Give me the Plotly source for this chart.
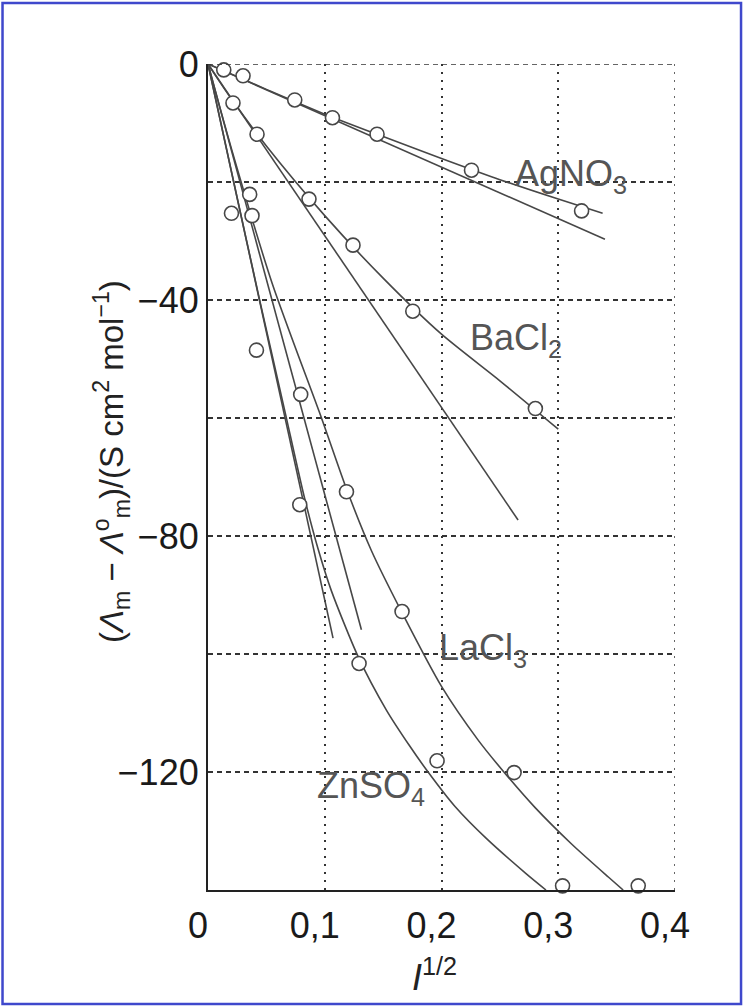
import plotly.graph_objects as go

# ---- measured data (I^1/2, Lambda_m - Lambda_m° in S cm^2 mol^-1) ----
agno3_x = [0.0135, 0.030, 0.0743, 0.1066, 0.1448, 0.2257, 0.320]
agno3_y = [-1.0, -2.0, -6.1, -9.1, -11.9, -18.0, -24.9]

bacl2_x = [0.0214, 0.0420, 0.0865, 0.1242, 0.1754, 0.2804]
bacl2_y = [-6.6, -11.9, -22.9, -30.7, -41.9, -58.4]

lacl3_x = [0.0357, 0.0377, 0.0794, 0.1186, 0.1662, 0.2622, 0.3685]
lacl3_y = [-22.1, -25.7, -56.0, -72.5, -92.8, -120.1, -139.3]

znso4_x = [0.0201, 0.0415, 0.0786, 0.1294, 0.1962, 0.3037]
znso4_y = [-25.3, -48.5, -74.7, -101.6, -118.1, -139.3]

# ---- extended (curved) fits ----
agno3_fit_x = [0, 0.05, 0.10, 0.15, 0.20, 0.25, 0.30, 0.338]
agno3_fit_y = [0, -4.3, -8.5, -12.3, -16.0, -19.6, -22.9, -25.3]

bacl2_fit_x = [0, 0.02, 0.05, 0.10, 0.15, 0.20, 0.25, 0.300]
bacl2_fit_y = [0, -5.9, -13.9, -25.7, -36.3, -45.8, -53.7, -61.9]

lacl3_fit_x = [0, 0.020, 0.055, 0.0972, 0.1186, 0.1400, 0.1662, 0.2000,
               0.2314, 0.2543, 0.2800, 0.3114, 0.3429, 0.3556]
lacl3_fit_y = [0, -14.3, -37.2, -60.0, -72.0, -82.5, -93.0, -105.5,
               -114.6, -120.2, -126.0, -132.2, -137.8, -140.0]

znso4_fit_x = [0, 0.022, 0.044, 0.066, 0.082, 0.094, 0.1057, 0.1285,
               0.1528, 0.1728, 0.1885, 0.2114, 0.2386, 0.2729, 0.2895]
znso4_fit_y = [0, -20.0, -39.8, -59.0, -73.0, -82.0, -89.3, -100.4,
               -109.5, -115.6, -120.0, -125.8, -131.3, -137.3, -140.0]

# ---- limiting-law straight lines (from the origin) ----
agno3_lim_x = [0, 0.340]
agno3_lim_y = [0, -29.7]
bacl2_lim_x = [0, 0.2656]
bacl2_lim_y = [0, -77.3]
lacl3_lim_x = [0, 0.1314]
lacl3_lim_y = [0, -95.9]
znso4_lim_x = [0, 0.1071]
znso4_lim_y = [0, -97.3]

# ---- axis ticks ----
x_range = [0, 0.4]
y_range = [-140, 0]
x_ticks = [0, 0.1, 0.2, 0.3, 0.4]
x_ticktext = ["0", "0,1", "0,2", "0,3", "0,4"]
y_ticks = [0, -20, -40, -60, -80, -100, -120, -140]
y_ticktext = ["0", "", "\u221240", "", "\u221280", "", "\u2212120", ""]

# ---- labels: (text, x, y) ----
salt_labels = [
    ("AgNO<sub>3</sub>", 0.261, -19.0),
    ("BaCl<sub>2</sub>", 0.2225, -46.8),
    ("LaCl<sub>3</sub>", 0.196, -99.3),
    ("ZnSO<sub>4</sub>", 0.0914, -122.7),
]

FONT = "Liberation Sans, Arial, Helvetica, sans-serif"
INK = "#474747"
GRID = "#333333"

fig = go.Figure()

for fx, fy in [(agno3_fit_x, agno3_fit_y), (bacl2_fit_x, bacl2_fit_y),
               (lacl3_fit_x, lacl3_fit_y), (znso4_fit_x, znso4_fit_y)]:
    fig.add_trace(go.Scatter(x=fx, y=fy, mode="lines",
                             line=dict(color=INK, width=1.6, shape="spline", smoothing=0.7),
                             hoverinfo="skip", showlegend=False))

for lx, ly in [(agno3_lim_x, agno3_lim_y), (bacl2_lim_x, bacl2_lim_y),
               (lacl3_lim_x, lacl3_lim_y), (znso4_lim_x, znso4_lim_y)]:
    fig.add_trace(go.Scatter(x=lx, y=ly, mode="lines",
                             line=dict(color=INK, width=1.6),
                             hoverinfo="skip", showlegend=False))

for px, py in [(agno3_x, agno3_y), (bacl2_x, bacl2_y),
               (lacl3_x, lacl3_y), (znso4_x, znso4_y)]:
    fig.add_trace(go.Scatter(x=px, y=py, mode="markers",
                             marker=dict(symbol="circle", size=14, color="white",
                                         line=dict(color=INK, width=1.6)),
                             cliponaxis=False, showlegend=False))

for text, lx, ly in salt_labels:
    fig.add_annotation(x=lx, y=ly, text=text, showarrow=False,
                       xanchor="left", yanchor="middle",
                       font=dict(family=FONT, size=36, color="#555555"))

# axis titles
fig.add_annotation(xref="paper", yref="paper", x=-0.206, y=0.519,
                   text="(<i>\u039b</i><sub>m</sub> \u2212 <i>\u039b</i><sup>o</sup><sub>m</sub>)/(S cm<sup>2</sup> mol<sup>\u22121</sup>)",
                   textangle=-90, showarrow=False, xanchor="center", yanchor="middle",
                   font=dict(family=FONT, size=33, color="#222222"))
fig.add_annotation(xref="paper", yref="paper", x=0.486, y=-0.103,
                   text="<i>I</i><sup>1/2</sup>", showarrow=False,
                   xanchor="center", yanchor="middle",
                   font=dict(family=FONT, size=36, color="#222222"))

# closing grid lines along the top (0) and right (0,4) edges
fig.add_shape(type="line", xref="x", yref="y", x0=x_range[0], x1=x_range[1],
              y0=y_range[1], y1=y_range[1],
              line=dict(color=GRID, width=1.5, dash="5px,4px"))
fig.add_shape(type="line", xref="x", yref="y", x0=x_range[1], x1=x_range[1],
              y0=y_range[0], y1=y_range[1],
              line=dict(color=GRID, width=1.5, dash="2px,6px"))

# page border
fig.add_shape(type="rect", xref="paper", yref="paper",
              x0=-0.440, x1=1.1414, y0=-0.138, y1=1.0738,
              line=dict(color="#3f48cc", width=2.5), layer="below")

fig.update_xaxes(range=x_range, tickvals=x_ticks, ticktext=x_ticktext,
                 showgrid=True, gridcolor=GRID, gridwidth=1.5, griddash="2px,6px",
                 showline=True, linecolor="#222222", linewidth=2.2, zeroline=False,
                 ticks="", ticklabelshift=-10, ticklabelstandoff=3,
                 tickfont=dict(family=FONT, size=36, color="#1a1a1a"))
fig.update_yaxes(range=y_range, tickvals=y_ticks, ticktext=y_ticktext,
                 showgrid=True, gridcolor=GRID, gridwidth=1.5, griddash="5px,4px",
                 showline=True, linecolor="#222222", linewidth=2.2, zeroline=False,
                 ticks="", ticklabelstandoff=0,
                 tickfont=dict(family=FONT, size=36, color="#1a1a1a"))

fig.update_layout(width=744, height=1007,
                  margin=dict(l=208, r=69, t=64, b=117),
                  paper_bgcolor="white", plot_bgcolor="white",
                  showlegend=False)

fig.write_html("out.html")
